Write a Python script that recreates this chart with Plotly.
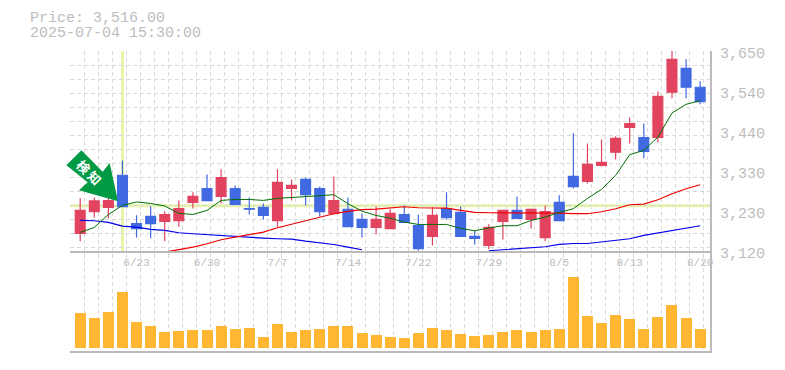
import plotly.graph_objects as go

opens  = [3167,3225,3236,3321,3193,3212,3199,3201,3249,3286,3265,3286,3233,3236,3201,3286,3310,3286,3220,3231,3204,3183,3180,3217,3188,3159,3233,3223,3159,3135,3199,3228,3204,3156,3249,3318,3305,3347,3382,3448,3421,3421,3541,3604,3554]
highs  = [3260,3262,3260,3360,3215,3238,3225,3254,3276,3323,3337,3294,3262,3246,3337,3310,3315,3291,3318,3262,3220,3238,3231,3241,3217,3236,3276,3238,3175,3191,3228,3265,3233,3241,3268,3432,3405,3416,3424,3474,3458,3543,3652,3628,3570]
lows   = [3146,3209,3207,3238,3156,3154,3146,3185,3233,3252,3246,3244,3217,3204,3185,3254,3241,3212,3217,3185,3156,3164,3180,3196,3122,3135,3204,3159,3138,3125,3151,3207,3180,3146,3201,3286,3299,3344,3363,3405,3366,3408,3525,3525,3509]
closes = [3228,3253,3254,3238,3180,3193,3217,3233,3265,3254,3315,3244,3231,3215,3302,3294,3270,3225,3254,3185,3183,3204,3220,3196,3127,3215,3209,3159,3154,3183,3228,3207,3231,3225,3201,3291,3350,3355,3419,3458,3384,3530,3628,3554,3516]
ma_green = [3169.6,3182.9,3217.3,3241.2,3250.4,3246.4,3239.8,3220,3217.3,3227.9,3254.4,3257,3257,3254.4,3259.7,3262.4,3263.2,3266.9,3269.5,3245.7,3226,3214.6,3207.5,3196.9,3190.8,3190.8,3190.8,3180.2,3174.1,3181.5,3187.4,3187.4,3201.4,3210.2,3222.6,3232.4,3259.7,3283.5,3320.6,3375.5,3386.9,3422.1,3485.7,3508.8,3518.6]
ma_red = [None]*6 + [3117.4,3123.8,3130.6,3139.6,3150.2,3157.1,3163.5,3170.4,3182,3190.8,3200.6,3210.2,3219.2,3225.3,3229.8,3231.3,3235,3237.7,3235,3234,3234,3227.9,3222.6,3221.8,3221.8,3221.8,3221.8,3220.7,3220.7,3219.2,3219.2,3224.4,3232.4,3243,3244.6,3256.2,3272.2,3285.4,3296]
ma_blue = [3201.4,3200.6,3196.1,3186.3,3183.6,3177.6,3174.9,3168.8,3166.2,3163.5,3160.9,3159.8,3157.1,3154.5,3152.9,3151.9,3146.6,3143.1,3137.8,3130.6,3123.8] + [None]*8 + [3121.1,3123.8,3127.2,3129,3131.7,3137.8,3140.4,3140.4,3144.9,3150.2,3152.9,3161.7,3167.7,3174.9,3181,3187.4]
volumes = [35,30,36,56,26,22,16,17,18,18,22,19,20,11,24,16,18,19,22,22,15,13,11,10,15,20,18,14,12,13,16,18,16,18,19,71,32,25,33,29,19,31,43,30,19]
date_idx = [4,9,14,19,24,29,34,39,44]
date_labels = ["6/23","6/30","7/7","7/14","7/22","7/29","8/5","8/13","8/20"]
price_ticks = [3120,3226,3332,3438,3544,3650]
price_labels = ["3,120","3,230","3,330","3,440","3,540","3,650"]
title_lines = ["Price: 3,516.00","2025-07-04 15:30:00"]
marker_idx = 3
marker_price = 3240

xs = list(range(len(closes)))
W, H = 785, 370
L, R, T, B = 70.3, 710.3, 50.7, 350.7
px_per = 14.09
x0 = 80.5
xr = [(L-x0)/px_per, (R-x0)/px_per]
xgrid = [-0.73 + k for k in range(46)]
ygrid = [3650 - 37.1*k for k in range(15)]
GREY = "#bbbbbb"; GRID = "#d8d8d8"; TXT = "#bdbdbd"; RED = "#e2435f"; BLUE = "#4169e1"; ORANGE = "#ffb733"; HL = "#e6f5a8"
MONO = "Liberation Mono"

fig = go.Figure()
fig.add_trace(go.Scatter(x=[0], y=[0.5], xaxis="x", yaxis="y", mode="markers", marker=dict(opacity=0), hoverinfo="skip"))
fig.add_trace(go.Scatter(x=xs, y=ma_blue, xaxis="x2", yaxis="y2", mode="lines", line=dict(color="#0000ee", width=1.2), hoverinfo="skip"))
fig.add_trace(go.Scatter(x=xs, y=ma_red, xaxis="x2", yaxis="y2", mode="lines", line=dict(color="#f00000", width=1.2), hoverinfo="skip"))
fig.add_trace(go.Scatter(x=xs, y=ma_green, xaxis="x2", yaxis="y2", mode="lines", line=dict(color="#007000", width=1), hoverinfo="skip"))
fig.add_trace(go.Candlestick(x=xs, open=opens, high=highs, low=lows, close=closes, xaxis="x2", yaxis="y2",
    increasing=dict(line=dict(color=RED, width=1.2), fillcolor=RED),
    decreasing=dict(line=dict(color=BLUE, width=1.2), fillcolor=BLUE), whiskerwidth=0))
fig.add_trace(go.Bar(x=xs, y=volumes, xaxis="x2", yaxis="y3", marker=dict(color=ORANGE, line=dict(width=0)), width=11/px_per))

def px(x): return (x-L)/(R-L)
def py(y): return (B-y)/(B-T)
arrow = [(66.7,165),(81.7,150),(103,171.5),(110,162.7),(118.3,201),(79.3,190),(88,182)]
path = "M " + " L ".join(f"{px(a):.4f},{py(b):.4f}" for a,b in arrow) + " Z"

fig.update_layout(
    width=W, height=H, margin=dict(l=L, r=W-R, t=T, b=H-B, pad=0, autoexpand=False),
    paper_bgcolor="white", plot_bgcolor="rgba(0,0,0,0)", showlegend=False, boxgap=0.3, boxgroupgap=0, bargap=0,
    xaxis=dict(range=xr, anchor="y", tickmode="array", tickvals=xgrid, ticktext=[""]*46,
               showticklabels=False, ticks="", showgrid=True, gridcolor=GRID, griddash="4px,3px", gridwidth=1,
               showline=True, linecolor=GREY, linewidth=1.5, zeroline=False),
    xaxis2=dict(range=xr, anchor="y2", side="bottom", tickmode="array", tickvals=date_idx, ticktext=date_labels,
                rangeslider=dict(visible=False),
                showgrid=False, zeroline=False, showline=True, linecolor=GREY, linewidth=1.5, ticks="outside", ticklen=0, tickcolor="rgba(0,0,0,0)",
                tickfont=dict(family=MONO, size=11, color=TXT)),
    yaxis=dict(domain=[0,1], range=[0,1], anchor="x", side="right", showticklabels=False, showgrid=False, zeroline=False, ticks="",
                showline=True, linecolor=GREY, linewidth=1.5),
    yaxis2=dict(domain=[0.3327,1], range=[3120,3650], anchor="x2", side="right", tickmode="array", tickvals=price_ticks, ticktext=price_labels,
               showgrid=False, zeroline=False, ticks="outside", ticklen=6, tickcolor="rgba(0,0,0,0)", ticklabelshift=2,
               tickfont=dict(family=MONO, size=15, color=TXT),
               minor=dict(tickmode="array", tickvals=ygrid, showgrid=True, gridcolor=GRID, griddash="4px,3px", gridwidth=1, ticks="")),
    yaxis3=dict(domain=[0,0.31], range=[-2.7,90.3], anchor="x2", side="right", showticklabels=False, showgrid=False, zeroline=False, ticks=""),
    shapes=[
        dict(type="line", xref="x2", yref="y2", x0=marker_idx, x1=marker_idx, y0=3120, y1=3650, layer="below", line=dict(color=HL, width=3)),
        dict(type="line", xref="x2", yref="y2", x0=xr[0], x1=xr[1], y0=marker_price, y1=marker_price, layer="below", line=dict(color=HL, width=3)),
        dict(type="path", xref="paper", yref="paper", path=path, fillcolor="#009944", line=dict(width=0), layer="above"),
    ],
    annotations=[
        dict(text=title_lines[0], xref="paper", yref="paper", x=px(28), y=py(18), xanchor="left", yanchor="middle", showarrow=False, font=dict(family=MONO, size=15, color=TXT)),
        dict(text=title_lines[1], xref="paper", yref="paper", x=px(28), y=py(33), xanchor="left", yanchor="middle", showarrow=False, font=dict(family=MONO, size=15, color=TXT)),
        dict(text="<b>検</b>", xref="paper", yref="paper", x=px(83.5), y=py(166.5), xanchor="center", yanchor="middle", showarrow=False, textangle=45, font=dict(family="Noto Sans CJK JP", size=13, color="white")),
        dict(text="<b>知</b>", xref="paper", yref="paper", x=px(94.5), y=py(177.5), xanchor="center", yanchor="middle", showarrow=False, textangle=45, font=dict(family="Noto Sans CJK JP", size=13, color="white")),
    ],
)
fig.write_html("out.html", post_script="document.body.style.margin='0';", config=dict(displayModeBar=False))
